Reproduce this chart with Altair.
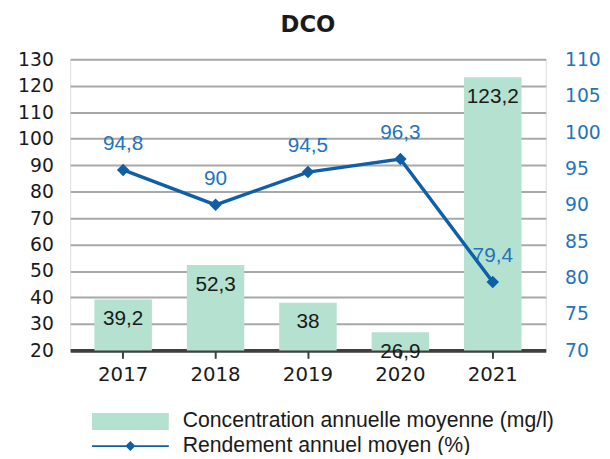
import altair as alt
import pandas as pd

# ---- data ----
years = ["2017", "2018", "2019", "2020", "2021"]
concentration = [39.2, 52.3, 38, 26.9, 123.2]
rendement = [94.8, 90, 94.5, 96.3, 79.4]
left_ticks = [20, 30, 40, 50, 60, 70, 80, 90, 100, 110, 120, 130]
right_ticks = [70, 75, 80, 85, 90, 95, 100, 105, 110]
series_bar = "Concentration annuelle moyenne (mg/l)"
series_line = "Rendement annuel moyen (%)"
title_text = "DCO"

GREEN = "#b4e1d0"
BLUE = "#0e5fa8"
LABEL_BLUE = "#2473bb"
TEXT = "#1a1a1a"


def fr(v):
    return f"{v:g}".replace(".", ",")


df = pd.DataFrame({
    "year": years,
    "conc": concentration,
    "rend": rendement,
    "conc_label": [fr(v) for v in concentration],
    "rend_label": [fr(v) for v in rendement],
    "base": [left_ticks[0]] * len(years),
    "s_bar": [series_bar] * len(years),
    "s_line": [series_line] * len(years),
})

x_enc = alt.X(
    "year:N", sort=years,
    scale=alt.Scale(paddingInner=0.378, paddingOuter=0.2625),
    axis=alt.Axis(title=None, labelAngle=0, labelFont="DejaVu Sans", labelFontSize=20,
                  labelColor=TEXT, labelPadding=7, domainColor="#3f3f3f", domainWidth=4,
                  tickColor="#3f3f3f", tickWidth=2, tickSize=8, grid=False),
)

left_scale = alt.Scale(domain=[left_ticks[0], left_ticks[-1]], nice=False, zero=False)
right_scale = alt.Scale(domain=[right_ticks[0], right_ticks[-1]], nice=False, zero=False)

left_axis = alt.Axis(values=left_ticks, title=None, orient="left", grid=True,
                     gridColor="#a8a8a8", gridWidth=2, domain=False, ticks=False,
                     labelFont="DejaVu Sans", labelFontSize=19, labelColor=TEXT,
                     labelPadding=17)
right_axis = alt.Axis(values=right_ticks, title=None, orient="right", grid=False,
                      domain=False, ticks=False, labelFont="DejaVu Sans", labelFontSize=19,
                      labelColor=LABEL_BLUE, labelPadding=19)

RECT_PATH = "M-1,-0.22L1,-0.22L1,0.22L-1,0.22Z"
LINE_PATH = ("M-1,-0.025L1,-0.025L1,0.025L-1,0.025Z"
             "M0,-0.13L0.13,0L0,0.13L-0.13,0Z")

common_legend = dict(title=None, orient="none", symbolSize=6084, symbolStrokeWidth=0,
                     clipHeight=20, labelFont="Liberation Sans", labelFontSize=21.5,
                     labelColor=TEXT, labelOffset=14, padding=0, labelLimit=0,
                     symbolOpacity=1)

bars = alt.Chart(df).mark_bar().encode(
    x=x_enc,
    y=alt.Y("conc:Q", scale=left_scale, axis=left_axis),
    y2="base:Q",
    fill=alt.Fill("s_bar:N", scale=alt.Scale(range=[GREEN]),
                  legend=alt.Legend(legendX=22, legendY=357, symbolType=RECT_PATH,
                                    **common_legend)),
)

bar_text = alt.Chart(df).mark_text(font="Liberation Sans", fontSize=21, color=TEXT,
                                   baseline="middle", dy=20).encode(
    x=x_enc,
    y=alt.Y("conc:Q", scale=left_scale, axis=None),
    text="conc_label:N",
)

line_text = alt.Chart(df).mark_text(font="Liberation Sans", fontSize=21, color=LABEL_BLUE,
                                    baseline="middle", dy=-26).encode(
    x=x_enc,
    y=alt.Y("rend:Q", scale=right_scale, axis=None),
    text="rend_label:N",
)

line = alt.Chart(df).mark_line(color=BLUE, strokeWidth=3.5).encode(
    x=x_enc,
    y=alt.Y("rend:Q", scale=right_scale, axis=None),
)

points = alt.Chart(df).mark_point(shape="diamond", filled=True, size=160, opacity=1).encode(
    x=x_enc,
    y=alt.Y("rend:Q", scale=right_scale, axis=right_axis),
    color=alt.Color("s_line:N", scale=alt.Scale(range=[BLUE]),
                    legend=alt.Legend(legendX=22, legendY=382, symbolType=LINE_PATH,
                                      **common_legend)),
)

chart = alt.layer(bars, bar_text, line_text, line, points).resolve_scale(
    y="independent"
).properties(
    width=482,
    height=295,
    title=alt.Title(title_text, font="DejaVu Sans", fontSize=23, fontWeight="bold",
                    color=TEXT, anchor="middle", offset=14),
    autosize=alt.AutoSizeParams(type="none"),
    padding={"left": 63, "top": 49, "right": 57, "bottom": 103},
).configure_view(stroke=None).configure(background="white")

chart.save("out.html", embed_options={"renderer": "svg", "actions": False})
